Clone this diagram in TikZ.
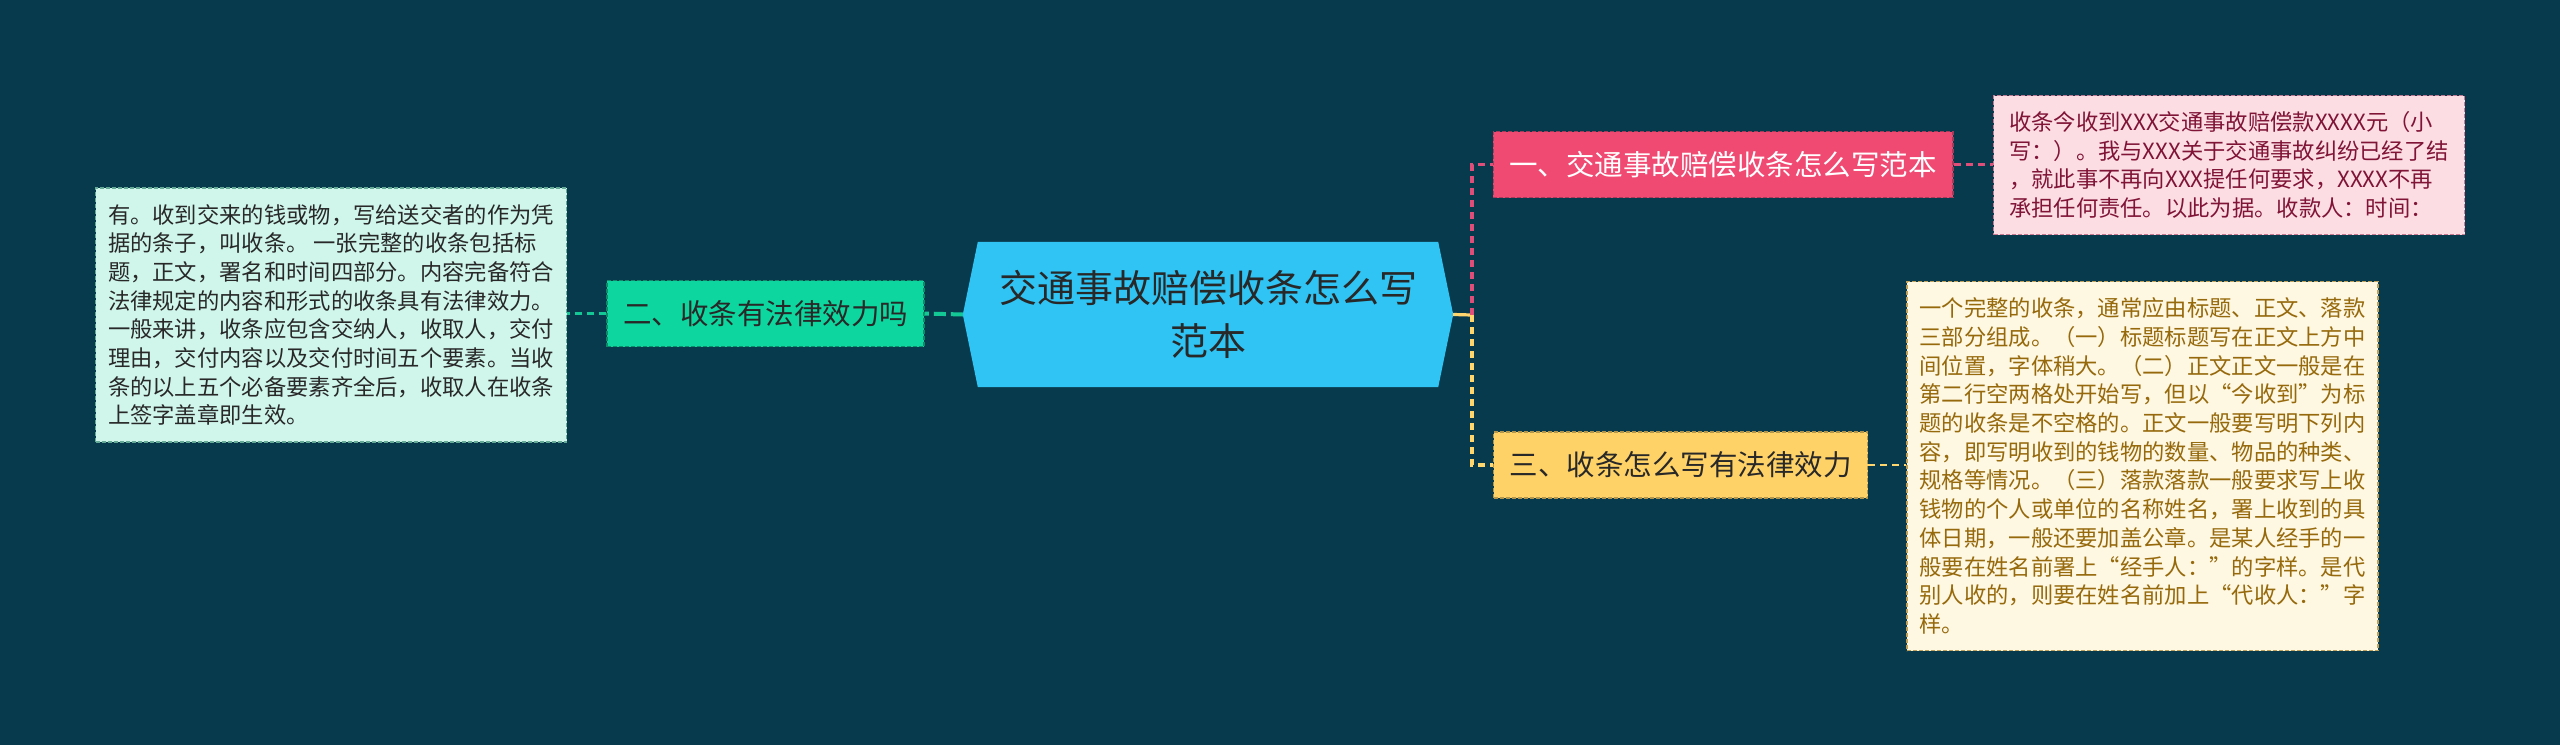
\documentclass[tikz,border=0pt]{standalone}
\usepackage{fontspec}
\setmainfont{Noto Sans CJK SC}
\usetikzlibrary{backgrounds}

\definecolor{canvas}{RGB}{8,58,77}
\definecolor{hubfill}{RGB}{47,196,244}
\definecolor{ink}{RGB}{40,40,40}
\definecolor{greenfill}{RGB}{13,214,158}
\definecolor{greenline}{RGB}{20,200,150}
\definecolor{mintfill}{RGB}{208,246,236}
\definecolor{mintline}{RGB}{100,170,150}
\definecolor{pinkfill}{RGB}{240,74,115}
\definecolor{pinkline}{RGB}{222,78,120}
\definecolor{rosefill}{RGB}{252,221,228}
\definecolor{roseline}{RGB}{200,120,145}
\definecolor{roseink}{RGB}{128,20,55}
\definecolor{goldfill}{RGB}{255,210,104}
\definecolor{goldline}{RGB}{255,214,110}
\definecolor{creamfill}{RGB}{254,247,225}
\definecolor{creamline}{RGB}{190,160,90}
\definecolor{creamink}{RGB}{150,105,12}

\begin{document}
\begin{tikzpicture}[
  x=1pt, y=-1pt,
  hub/.style={
    minimum width=490pt,
    minimum height=145pt,
    inner sep=0pt,
    align=center,
    text=ink,
    font=\fontsize{38}{52.5}\selectfont
  },
  branch/.style={
    line width=1.5pt,
    dash pattern=on 4pt off 2pt,
    minimum height=66pt,
    inner xsep=16pt,
    inner ysep=0pt,
    font=\fontsize{28.5}{34}\selectfont
  },
  leaf/.style={
    line width=1.5pt,
    dash pattern=on 4pt off 2pt,
    align=left,
    minimum width=471pt,
    inner xsep=12pt,
    inner ysep=0pt,
    font=\fontsize{22.3}{28.7}\selectfont
  },
  link/.style={line width=3.2pt, dash pattern=on 7pt off 5pt},
  thinlink/.style={line width=2.4pt, dash pattern=on 7pt off 5pt},
  stub/.style={line width=3.2pt}
]

% central topic
\node[hub] (hub) at (1208,314.5) {交通事故赔偿收条怎么写\\范本};

% first level branches
\node[branch, fill=pinkfill, draw=pinkline!75!black, text=white] (b1) at (1723,164.5) {一、交通事故赔偿收条怎么写范本};
\node[branch, fill=greenfill, draw=greenline!70!black, text=ink] (b2) at (765.5,313.5) {二、收条有法律效力吗};
\node[branch, fill=goldfill, draw=goldline!70!black, text=ink] (b3) at (1680.5,465) {三、收条怎么写有法律效力};

% detail leaves
\node[leaf, fill=rosefill, draw=roseline, text=roseink, minimum height=139pt] (l1) at (2229,165) {%
收条今收到XXX交通事故赔偿款XXXX元（小\\
写：）。我与XXX关于交通事故纠纷已经了结\\
，就此事不再向XXX提任何要求，XXXX不再\\
承担任何责任。以此为据。收款人：时间：};

\node[leaf, fill=mintfill, draw=mintline, text=ink, minimum height=254pt] (l2) at (331,315) {%
有。收到交来的钱或物，写给送交者的作为凭\\
据的条子，叫收条。 一张完整的收条包括标\\
题，正文，署名和时间四部分。内容完备符合\\
法律规定的内容和形式的收条具有法律效力。\\
一般来讲，收条应包含交纳人，收取人，交付\\
理由，交付内容以及交付时间五个要素。当收\\
条的以上五个必备要素齐全后，收取人在收条\\
上签字盖章即生效。};

\node[leaf, fill=creamfill, draw=creamline, text=creamink, minimum height=369pt] (l3) at (2142.5,466) {%
一个完整的收条，通常应由标题、正文、落款\\
三部分组成。（一）标题标题写在正文上方中\\
间位置，字体稍大。（二）正文正文一般是在\\
第二行空两格处开始写，但以“今收到”为标\\
题的收条是不空格的。正文一般要写明下列内\\
容，即写明收到的钱物的数量、物品的种类、\\
规格等情况。（三）落款落款一般要求写上收\\
钱物的个人或单位的名称姓名，署上收到的具\\
体日期，一般还要加盖公章。是某人经手的一\\
般要在姓名前署上“经手人：”的字样。是代\\
别人收的，则要在姓名前加上“代收人：”字\\
样。};

\coordinate (fork) at (1472,315);

\begin{pgfonlayer}{background}
  \fill[canvas] (0,0) rectangle (2560,745);
  \fill[hubfill] (hub.west) -- ([xshift=15pt]hub.north west) -- ([xshift=-15pt]hub.north east)
    -- (hub.east) -- ([xshift=-15pt]hub.south east) -- ([xshift=15pt]hub.south west) -- cycle;
\end{pgfonlayer}

% connectors
\draw[stub, draw=goldline] (hub.east) -- (fork);
\draw[link, draw=pinkline] (fork) |- (b1.west);
\draw[link, draw=goldline] (fork) |- (b3.west);
\draw[link, draw=greenline, line width=4pt, dash pattern=on 12pt off 5pt] (hub.west) -- (b2.east);
\draw[thinlink, draw=greenline] (b2.west) -- (b2.west -| l2.east);
\draw[thinlink, draw=pinkline] (b1.east) -- (b1.east -| l1.west);
\draw[thinlink, draw=goldline] (b3.east) -- (b3.east -| l3.west);

\end{tikzpicture}
\end{document}
